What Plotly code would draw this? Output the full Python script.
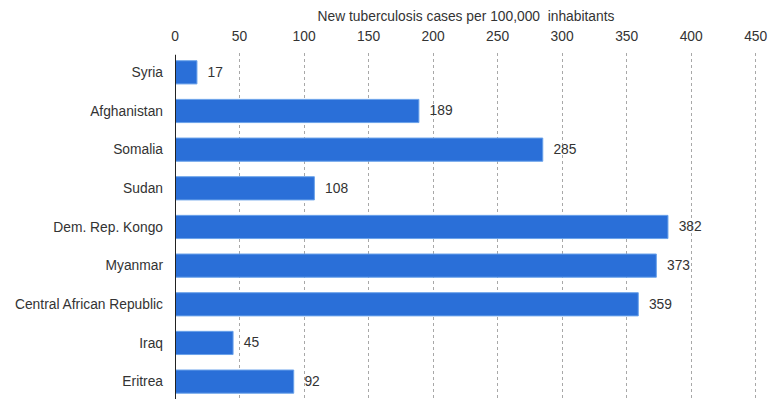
import plotly.graph_objects as go

countries = ["Syria", "Afghanistan", "Somalia", "Sudan", "Dem. Rep. Kongo",
             "Myanmar", "Central African Republic", "Iraq", "Eritrea"]
cases = [17, 189, 285, 108, 382, 373, 359, 45, 92]
x_ticks = [0, 50, 100, 150, 200, 250, 300, 350, 400, 450]

FONT = "Liberation Sans, Arial"

fig = go.Figure(go.Bar(
    x=cases, y=list(range(len(countries))), orientation="h",
    marker=dict(color="#2a6fd8", line=dict(color="#6aa2ea", width=1)),
    width=0.6,
    text=["  " + str(v) for v in cases], textposition="outside",
    textfont=dict(family=FONT, size=13.8, color="#333333"),
    cliponaxis=False,
))

fig.update_layout(
    width=768, height=399,
    margin=dict(l=175, r=11, t=53, b=0),
    paper_bgcolor="white", plot_bgcolor="white",
    showlegend=False,
    font=dict(family=FONT, size=13.8, color="#333333"),
    xaxis=dict(
        side="top", range=[0, 451], tickvals=x_ticks,
        ticktext=[str(t) for t in x_ticks],
        showgrid=True, gridcolor="#a8a8a8", griddash="dot", gridwidth=1,
        zeroline=False, showline=False, ticks="", ticklabelstandoff=8,
        title=dict(text="New tuberculosis cases per 100,000  inhabitants",
                   font=dict(size=13.8, color="#333333"), standoff=4),
    ),
    yaxis=dict(
        tickvals=list(range(len(countries))), ticktext=countries,
        range=[8.45, -0.5], showgrid=False, zeroline=False,
        showline=False, ticks="", ticklabelstandoff=11,
    ),
    shapes=[dict(type="line", xref="x", yref="paper", x0=0, x1=0, y0=0, y1=0.995,
                 line=dict(color="#222222", width=2))],
)

fig.write_html("out.html")
